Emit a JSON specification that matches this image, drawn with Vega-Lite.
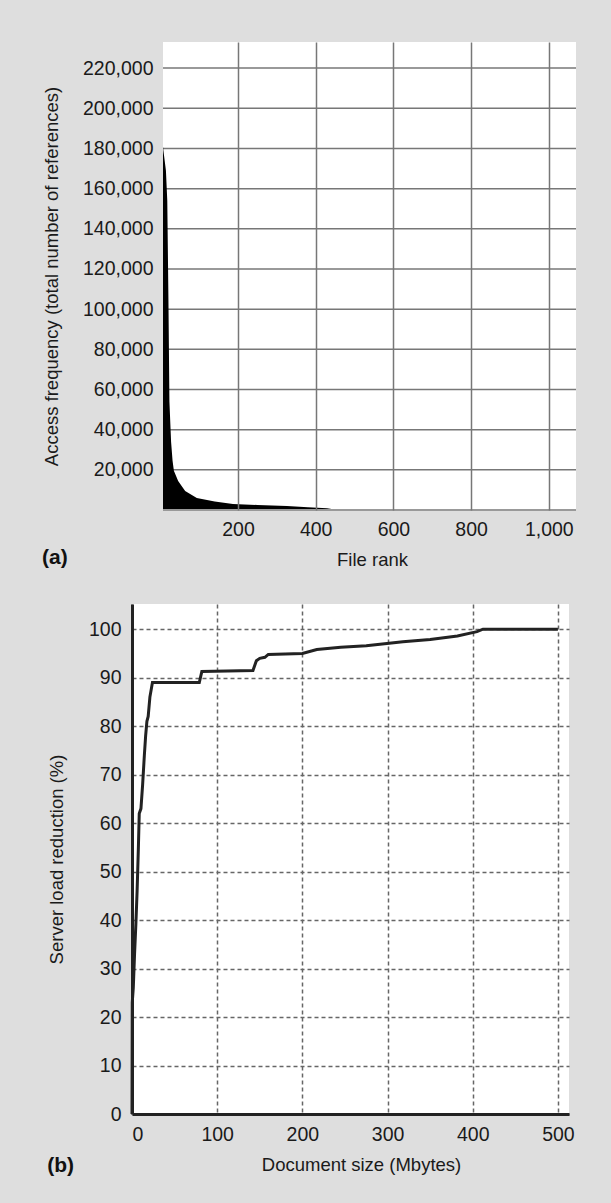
{
  "$schema": "https://vega.github.io/schema/vega-lite/v6.json",
  "background": "#dedede",
  "padding": {"left": 42, "top": 42, "right": 35, "bottom": 29},
  "autosize": {"type": "pad"},
  "spacing": 35,
  "config": {
    "font": "Liberation Sans",
    "view": {"stroke": null, "fill": "white"},
    "axis": {
      "labelFont": "Liberation Sans", "labelFontSize": 19.5, "labelColor": "#1a1a1a",
      "titleFont": "Liberation Sans", "titleFontSize": 18.5, "titleFontWeight": "normal", "titleColor": "#1a1a1a",
      "ticks": false, "tickSize": 0, "gridColor": "#888", "gridWidth": 1.5
    }
  },
  "vconcat": [
    {
      "width": 444, "height": 468,
      "view": {"fill": null, "stroke": null},
      "title": {"text": "(a)", "orient": "bottom", "anchor": "start", "frame": "bounds", "offset": -22, "fontSize": 21, "fontWeight": "bold", "font": "Liberation Sans", "color": "#111"},
      "layer": [
        {
          "data": {"values": [{}]},
          "mark": {"type": "rect", "color": "white"},
          "encoding": {
            "x": {"datum": 7, "type": "quantitative"}, "x2": {"datum": 1070},
            "y": {"datum": 0, "type": "quantitative"}, "y2": {"datum": 233000}
          }
        },
        {
          "data": {"values": [
            {"grid": 20000}, {"grid": 40000}, {"grid": 60000}, {"grid": 80000}, {"grid": 100000}, {"grid": 120000},
            {"grid": 140000}, {"grid": 160000}, {"grid": 180000}, {"grid": 200000}, {"grid": 220000}
          ]},
          "mark": {"type": "rule", "color": "#777", "strokeWidth": 1.5},
          "encoding": {
            "y": {"field": "grid", "type": "quantitative"},
            "x": {"datum": 7, "type": "quantitative"}, "x2": {"datum": 1070}
          }
        },
        {
          "data": {"values": [
            {"rank": 7, "freq": 181000}, {"rank": 8, "freq": 179000}, {"rank": 14.5, "freq": 169000},
            {"rank": 18, "freq": 154000}, {"rank": 21, "freq": 104000}, {"rank": 23.5, "freq": 54000},
            {"rank": 27.8, "freq": 34000}, {"rank": 31.6, "freq": 24500}, {"rank": 35, "freq": 19500},
            {"rank": 46, "freq": 14500}, {"rank": 64, "freq": 9500}, {"rank": 94, "freq": 6000},
            {"rank": 140, "freq": 4200}, {"rank": 187, "freq": 3000}, {"rank": 250, "freq": 2500},
            {"rank": 326, "freq": 2000}, {"rank": 380, "freq": 1400}, {"rank": 429, "freq": 900},
            {"rank": 445, "freq": 400}, {"rank": 455, "freq": 0}
          ]},
          "mark": {"type": "area", "color": "#000", "clip": true},
          "encoding": {
            "x": {"field": "rank", "type": "quantitative",
              "scale": {"domain": [-72.8, 1070], "nice": false, "zero": false},
              "axis": {"values": [200, 400, 600, 800, 1000], "format": ",d", "title": "File rank",
                "labelPadding": 10, "titlePadding": 12, "domain": false, "zindex": 1,
                "grid": true, "gridColor": "#777", "titleX": 240}},
            "y": {"field": "freq", "type": "quantitative",
              "scale": {"domain": [0, 233000], "nice": false},
              "axis": {"values": [20000, 40000, 60000, 80000, 100000, 120000, 140000, 160000, 180000, 200000, 220000],
                "format": ",d", "title": "Access frequency (total number of references)", "offset": -31,
                "labelPadding": 10, "titlePadding": 21.5, "domain": false, "grid": false}}
          }
        },
        {
          "data": {"values": [{}]},
          "mark": {"type": "rule", "color": "#999", "strokeWidth": 2},
          "encoding": {
            "y": {"datum": 0, "type": "quantitative"},
            "x": {"datum": 7, "type": "quantitative"}, "x2": {"datum": 1070}
          }
        }
      ]
    },
    {
      "width": 437, "height": 510,
      "title": {"text": "(b)", "orient": "bottom", "anchor": "start", "frame": "bounds", "offset": -19, "fontSize": 21, "fontWeight": "bold", "font": "Liberation Sans", "color": "#111"},
      "data": {"values": [
        {"size": 0, "reduction": 0}, {"size": 0.3, "reduction": 23}, {"size": 1.5, "reduction": 26},
        {"size": 3, "reduction": 33}, {"size": 4.5, "reduction": 39}, {"size": 6, "reduction": 46},
        {"size": 7.5, "reduction": 55}, {"size": 8.5, "reduction": 62}, {"size": 10.5, "reduction": 63},
        {"size": 12.5, "reduction": 68}, {"size": 14.5, "reduction": 74}, {"size": 16, "reduction": 78},
        {"size": 17.5, "reduction": 81}, {"size": 19, "reduction": 82}, {"size": 21, "reduction": 86},
        {"size": 24, "reduction": 89}, {"size": 79, "reduction": 89}, {"size": 82, "reduction": 91.3},
        {"size": 142, "reduction": 91.5}, {"size": 146, "reduction": 93.5}, {"size": 150, "reduction": 94},
        {"size": 156, "reduction": 94.2}, {"size": 160, "reduction": 94.8}, {"size": 200, "reduction": 95},
        {"size": 217, "reduction": 95.8}, {"size": 245, "reduction": 96.3}, {"size": 275, "reduction": 96.6},
        {"size": 318, "reduction": 97.4}, {"size": 350, "reduction": 97.9}, {"size": 382, "reduction": 98.6},
        {"size": 405, "reduction": 99.5}, {"size": 412, "reduction": 100}, {"size": 440, "reduction": 100},
        {"size": 500, "reduction": 100}
      ]},
      "mark": {"type": "line", "color": "#222", "strokeWidth": 3},
      "encoding": {
        "x": {"field": "size", "type": "quantitative",
          "scale": {"domain": [0, 513], "nice": false},
          "axis": {"values": [0, 100, 200, 300, 400, 500], "title": "Document size (Mbytes)",
            "labelPadding": 11, "titlePadding": 11.5, "domainColor": "#222", "domainWidth": 3,
            "grid": true, "gridColor": "#666", "gridDash": [4, 3], "titleX": 229}},
        "y": {"field": "reduction", "type": "quantitative",
          "scale": {"domain": [0, 105.2], "nice": false, "zero": false},
          "axis": {"values": [0, 10, 20, 30, 40, 50, 60, 70, 80, 90, 100], "title": "Server load reduction (%)",
            "labelPadding": 11, "titlePadding": 22.3, "domainColor": "#222", "domainWidth": 3,
            "grid": true, "gridColor": "#666", "gridDash": [4, 3]}}
      }
    }
  ]
}
